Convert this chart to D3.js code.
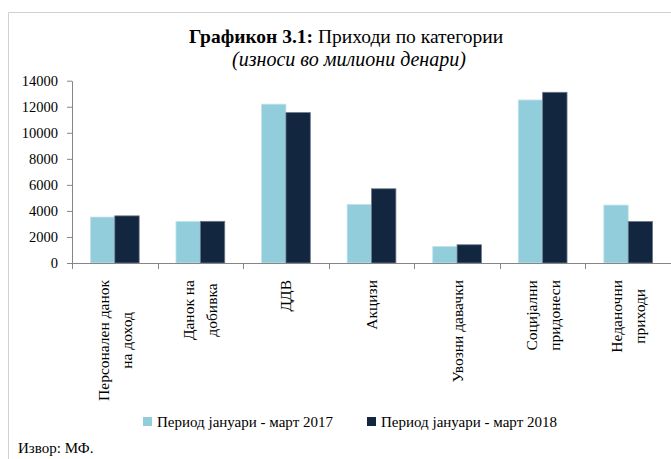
<!DOCTYPE html>
<html>
<head>
<meta charset="utf-8">
<script src="https://cdnjs.cloudflare.com/ajax/libs/d3/7.8.5/d3.min.js"></script>
<style>
  body { margin: 0; background: #fff; }
  text { font-family: "Liberation Serif", serif; fill: #000; }
  .axis path, .axis line { stroke: #868686; }
</style>
</head>
<body>
<div id="chart"></div>
<script>
// data (millions of denars)
const categories = [
    ["Персонален данок", "на доход"],
    ["Данок на", "добивка"],
    ["ДДВ"],
    ["Акцизи"],
    ["Увозни давачки"],
    ["Социјални", "придонеси"],
    ["Неданочни", "приходи"]
];
const seriesNames = ["Период јануари - март 2017", "Период јануари - март 2018"];
const values2017 = [3530, 3200, 12200, 4500, 1270, 12520, 4450];
const values2018 = [3620, 3200, 11550, 5700, 1400, 13110, 3190];
const yTicks = [0, 2000, 4000, 6000, 8000, 10000, 12000, 14000];
const colors = ["#92cddc", "#12263f"];

var width = 671;
var height = 459;
var plotLeft = 72, plotRight = 671, plotTop = 80.7, plotBottom = 263;

let svg = d3.select("#chart").append("svg")
    .attr("width", width)
    .attr("height", height);

// frame lines of the chart box
svg.append("path")
    .attr("d", `M8.5,${height} V12.5 H${width}`)
    .attr("fill", "none")
    .attr("stroke", "#d0d0d0");

// title
let title = svg.append("text")
    .attr("x", 346)
    .attr("y", 43)
    .attr("text-anchor", "middle")
    .style("font-size", "19.5px");
title.append("tspan").attr("font-weight", "bold").text("Графикон 3.1:");
title.append("tspan").text(" Приходи по категории");

svg.append("text")
    .attr("x", 349)
    .attr("y", 66)
    .attr("text-anchor", "middle")
    .style("font-size", "20px")
    .style("font-style", "italic")
    .text("(износи во милиони денари)");

/* Scales */
let x0 = d3.scaleBand()
    .domain(d3.range(categories.length))
    .range([plotLeft, plotRight])
    .paddingInner(0.43)
    .paddingOuter(0.215);

let x1 = d3.scaleBand()
    .domain([0, 1])
    .range([0, x0.bandwidth()]);

let yScale = d3.scaleLinear()
    .domain([0, 14000])
    .range([plotBottom, plotTop]);

/* Bars */
let data = categories.map((c, i) => [values2017[i], values2018[i]]);

let groups = svg.append("g").selectAll("g")
    .data(data).enter()
    .append("g")
    .attr("transform", (d, i) => `translate(${x0(i)},0)`);

groups.selectAll("rect")
    .data(d => d.map((v, s) => ({ v: v, s: s })))
    .enter().append("rect")
    .attr("x", d => x1(d.s))
    .attr("width", x1.bandwidth())
    .attr("y", d => yScale(d.v))
    .attr("height", d => plotBottom - yScale(d.v))
    .attr("fill", d => colors[d.s])
    .attr("stroke", d => d.s == 0 ? "#c4e4ec" : "#6b7a8c")
    .attr("stroke-width", 0.8);

/* Y axis */
let yAxis = svg.append("g")
    .attr("class", "axis")
    .attr("transform", `translate(${plotLeft},0)`)
    .call(d3.axisLeft(yScale).tickValues(yTicks).tickSize(5).tickSizeOuter(0).tickPadding(9).tickFormat(d3.format("d")));
yAxis.selectAll("text")
    .style("font-size", "14.5px")
    .attr("fill", "#000")
    .style("font-family", "'Liberation Serif', serif");

/* X axis: category boundaries */
let bounds = d3.range(categories.length).map(i => x0(i) - x0.step() * x0.paddingInner() / 2);
let xAxis = svg.append("g").attr("class", "axis");
xAxis.append("line")
    .attr("x1", plotLeft).attr("x2", plotRight)
    .attr("y1", plotBottom + 0.5).attr("y2", plotBottom + 0.5);
xAxis.selectAll(".tk")
    .data(bounds).enter()
    .append("line")
    .attr("x1", d => Math.round(d) + 0.5).attr("x2", d => Math.round(d) + 0.5)
    .attr("y1", plotBottom).attr("y2", plotBottom + 6);

/* Category labels, rotated */
let labelTop = 280;
let labelSize = 15.5;
let lineGap = 23;
categories.forEach(function(lines, i) {
    let cx = x0(i) + x0.bandwidth() / 2;
    let g = svg.append("g")
        .attr("transform", `translate(${cx},${labelTop}) rotate(-90)`);
    let texts = lines.map(function(t, k) {
        let off = (k - (lines.length - 1) / 2) * lineGap;
        return g.append("text")
            .attr("y", off + labelSize * 0.35)
            .attr("text-anchor", "middle")
            .style("font-size", labelSize + "px")
            .text(t);
    });
    let maxLen = d3.max(texts, t => t.node().getComputedTextLength());
    texts.forEach(t => t.attr("x", -maxLen / 2));
});

/* Legend */
let legendX = [143, 367];
let legend = svg.append("g").selectAll("g")
    .data(seriesNames).enter()
    .append("g")
    .attr("transform", (d, i) => `translate(${legendX[i]},417)`);
legend.append("rect")
    .attr("width", 9)
    .attr("height", 9)
    .attr("fill", (d, i) => colors[i]);
legend.append("text")
    .attr("x", 14)
    .attr("y", 10)
    .style("font-size", "15px")
    .text(d => d);

/* Source */
svg.append("text")
    .attr("x", 18)
    .attr("y", 453)
    .style("font-size", "15px")
    .text("Извор: МФ.");
</script>
</body>
</html>
